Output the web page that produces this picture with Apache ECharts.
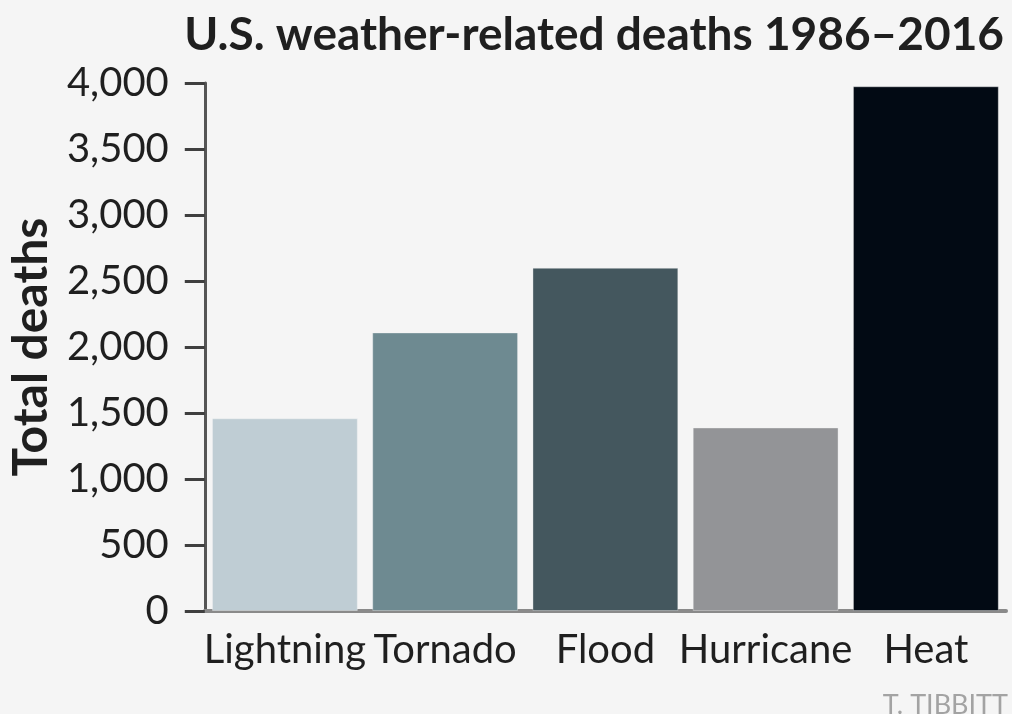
<!DOCTYPE html>
<html>
<head>
<meta charset="utf-8">
<script src="https://cdn.jsdelivr.net/npm/echarts@6/dist/echarts.min.js"></script>
<style>
  html, body { margin: 0; padding: 0; background: #f5f5f5; }
  #chart { width: 1012px; height: 714px; }
</style>
</head>
<body>
<div id="chart"></div>
<script>
// Weather categories and total deaths, 1986–2016
const categories = ['Lightning', 'Tornado', 'Flood', 'Hurricane', 'Heat'];
const deaths = [1460, 2110, 2600, 1390, 3975];
const barColors = ['#bfcdd4', '#6e8a91', '#44575e', '#939497', '#020a14'];
const yTicks = { min: 0, max: 4000, interval: 500 };

const FONT = 'Lato, "Open Sans", sans-serif';

const chart = echarts.init(document.getElementById('chart'), null, { renderer: 'canvas' });

chart.setOption({
  backgroundColor: '#f5f5f5',
  animation: false,
  title: {
    text: 'U.S. weather-related deaths 1986–2016',
    right: 3,
    top: 7,
    textStyle: { fontFamily: FONT, fontWeight: 'bold', fontSize: 46, color: '#1f1f1f' }
  },
  graphic: [{
    type: 'text',
    right: 4,
    top: 692,
    style: { text: 'T. TIBBITT', fontFamily: FONT, fontSize: 27, fill: '#a3a3a3' }
  }],
  grid: { left: 200, right: 6, top: 83, bottom: 103, containLabel: false },
  xAxis: {
    type: 'category',
    data: categories,
    axisLine: { show: true, lineStyle: { color: '#8a8a8a', width: 4 } },
    axisTick: { show: false },
    axisLabel: { fontFamily: FONT, fontSize: 40, color: '#1f1f1f', margin: 19, interval: 0 }
  },
  yAxis: {
    type: 'value',
    min: yTicks.min,
    max: yTicks.max,
    interval: yTicks.interval,
    name: 'Total deaths',
    nameLocation: 'middle',
    nameGap: 140,
    nameRotate: 90,
    nameTextStyle: { fontFamily: FONT, fontWeight: 'bold', fontSize: 48, color: '#1f1f1f' },
    axisLine: { show: true, lineStyle: { color: '#555555', width: 3 } },
    axisTick: { show: true, inside: false, length: 20, lineStyle: { color: '#3f3f3f', width: 3 } },
    splitLine: { show: false },
    axisLabel: {
      fontFamily: FONT, fontSize: 40, color: '#1f1f1f', margin: 36,
      formatter: v => v.toLocaleString('en-US')
    }
  },
  series: [{
    type: 'bar',
    data: deaths.map((v, i) => ({ value: v, itemStyle: { color: barColors[i] } })),
    barCategoryGap: '9%',
    itemStyle: { borderColor: 'rgba(245,245,245,0.35)', borderWidth: 1 }
  }]
});
</script>
</body>
</html>
